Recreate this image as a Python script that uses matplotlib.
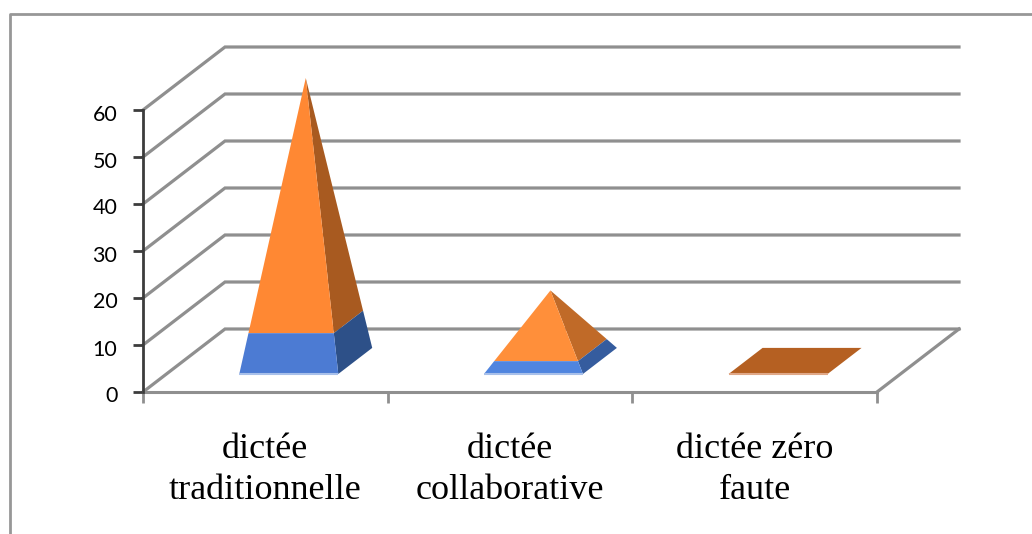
import matplotlib
matplotlib.use("Agg")
import matplotlib.pyplot as plt
from matplotlib.patches import Polygon
from matplotlib.lines import Line2D
from matplotlib.transforms import ScaledTranslation

categories = ["dictée\ntraditionnelle", "dictée\ncollaborative", "dictée zéro\nfaute"]
blue_values = [8.3, 2.3, 0]
orange_values = [51.9, 12.7, 0]
y_ticks = [0, 10, 20, 30, 40, 50, 60]

W, H = 1032, 534
fig = plt.figure(figsize=(W / 100, H / 100), dpi=100, facecolor="white")
L, R, T, B = 143, 877, 110, 392
ax = fig.add_axes([L / W, 1 - B / H, (R - L) / W, (B - T) / H])
ax.set_xlim(0, 3)
ax.set_ylim(0, 60)
ax.patch.set_visible(False)

GRID = "#8f8f8f"
DX, DY = 82 / 244.67, 63 / 4.7  # depth projection in data units
BAR_W = 99 / 244.67
D0, D1 = 0.286, 0.70  # depth range of the pyramid base

def proj(x, depth, y):
    return (x + DX * depth, y + DY * depth)

for v in y_ticks:
    ax.add_line(Line2D([0, DX, 3 + DX], [v, v + DY, v + DY], color=GRID, lw=2.3, clip_on=False, zorder=1, solid_joinstyle="miter"))
ax.add_line(Line2D([3, 3 + DX], [0, DY], color=GRID, lw=2.3, clip_on=False, zorder=1))

side_o = ["#A85A20", "#C06A28"]
front_o = ["#FF8833", "#FF8F3A"]
front_b = ["#4C7BD3", "#5085DF"]
side_b = ["#2D5088", "#355C9E"]

def poly(points, color, z=3):
    ax.add_patch(Polygon(points, closed=True, facecolor=color, edgecolor="none", clip_on=False, zorder=z))

def edge(a, b, color):
    ax.add_line(Line2D([a[0], b[0]], [a[1], b[1]], color=color, lw=1.5, clip_on=False, zorder=4, solid_capstyle="butt"))

for i, (b, o) in enumerate(zip(blue_values, orange_values)):
    cx = i + 0.5
    total = b + o
    x0, x1 = cx - BAR_W / 2, cx + BAR_W / 2
    fl, fr = proj(x0, D0, 0), proj(x1, D0, 0)
    bl, br = proj(x0, D1, 0), proj(x1, D1, 0)
    if total == 0:
        poly([fl, fr, br, bl], "#B56022")
        edge(fl, fr, "#E0A888")
        continue
    apex = ((fl[0] + br[0]) / 2, (fl[1] + br[1]) / 2 + total)
    t = b / total
    lerp = lambda p: (p[0] + (apex[0] - p[0]) * t, p[1] + (apex[1] - p[1]) * t)
    cfl, cfr, cbr = lerp(fl), lerp(fr), lerp(br)
    poly([cfr, cbr, apex], side_o[i])
    poly([cfl, cfr, apex], front_o[i])
    poly([fr, br, cbr, cfr], side_b[i])
    poly([fl, fr, cfr, cfl], front_b[i])
    edge(fl, fr, "#A8C0EA")

for s in ("top", "right"):
    ax.spines[s].set_visible(False)
ax.spines["left"].set_color("#3c3c3c")
ax.spines["left"].set_linewidth(2)
ax.spines["bottom"].set_color(GRID)
ax.spines["bottom"].set_linewidth(2.2)
ax.spines["left"].set_zorder(5)

ax.set_yticks(y_ticks)
ax.set_yticklabels([str(v) for v in y_ticks], family="Lato", fontsize=15.5, color="black")
ax.tick_params(axis="y", length=7, width=2, color="#3c3c3c", pad=11.5)
for lbl in ax.get_yticklabels():
    lbl.set_transform(lbl.get_transform() + ScaledTranslation(0, -2.5 / 100, fig.dpi_scale_trans))
ax.set_xticks([0, 1, 2, 3])
ax.set_xticklabels([])
ax.tick_params(axis="x", which="major", length=8, width=2, color=GRID)
ax.set_xticks([0.5, 1.5, 2.5], minor=True)
ax.set_xticklabels(categories, minor=True, family="Liberation Serif", fontsize=26, linespacing=1.33, color="black")
ax.tick_params(axis="x", which="minor", length=0, pad=29.5)

# chart frame
frame_x = [9.5 / W, 9.5 / W, 1]
frame_y = [0, 1 - 13.5 / H, 1 - 13.5 / H]
fig.add_artist(Line2D(frame_x, frame_y, color="#979797", lw=2, transform=fig.transFigure))

fig.savefig("out.png", dpi=100)
